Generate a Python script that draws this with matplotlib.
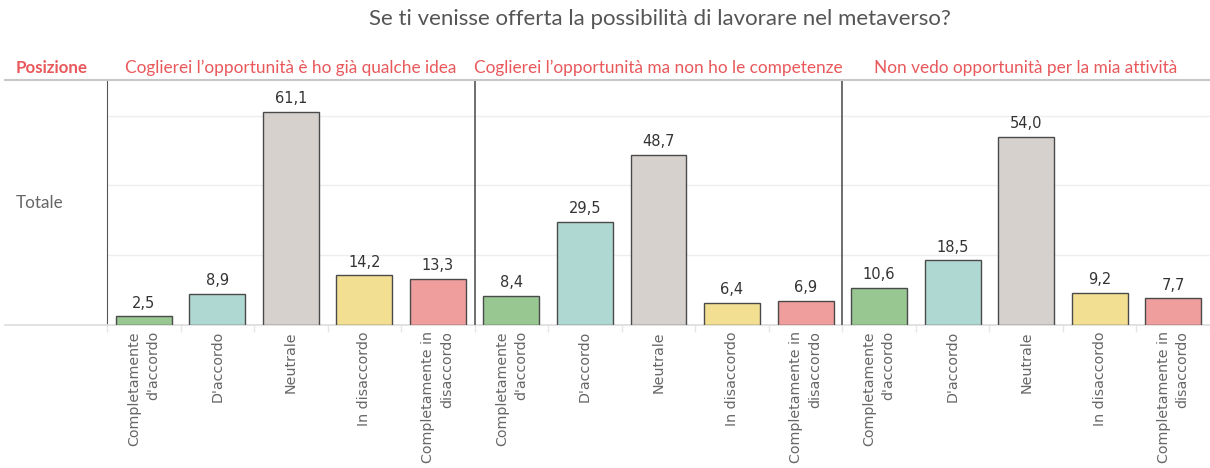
import numpy as np
import matplotlib.pyplot as plt
from matplotlib.lines import Line2D

# Data ~~~~~~~~~~~~~~~~~~~~~~~~~~~~~~~~~~~~~~~~~~~~~~~~~~~~~~~~~~~~~~~~~~~~~~~~~~~
title = 'Se ti venisse offerta la possibilità di lavorare nel metaverso?'
panels = ['Coglierei l’opportunità è ho già qualche idea',
          'Coglierei l’opportunità ma non ho le competenze',
          'Non vedo opportunità per la mia attività']
categories = ["Completamente\nd'accordo", "D'accordo", 'Neutrale',
              'In disaccordo', 'Completamente in\ndisaccordo']
values_idea = [2.5, 8.9, 61.1, 14.2, 13.3]
values_competenze = [8.4, 29.5, 48.7, 6.4, 6.9]
values_attivita = [10.6, 18.5, 54.0, 9.2, 7.7]
colors = ['#98C792', '#B0D8D3', '#D6D1CD', '#F3DF92', '#EF9D9D']

red = '#E9585B'
grey_txt = '#666666'

# Figure ~~~~~~~~~~~~~~~~~~~~~~~~~~~~~~~~~~~~~~~~~~~~~~~~~~~~~~~~~~~~~~~~~~~~~~~~~~
W, H = 1210, 468
fig = plt.figure(figsize=(W / 100, H / 100), dpi=100)

def fx(px):
    return px / W

def fy(py):
    return 1 - py / H

ax = fig.add_axes([fx(107), fy(325), 1 - fx(107), fy(80) - fy(325)])

all_values = values_idea + values_competenze + values_attivita
x = np.arange(len(all_values))
bar_colors = colors * 3
bars = ax.bar(x, all_values, width=0.76, color=bar_colors, edgecolor='#4a4a4a',
              linewidth=1.0, zorder=3)

for xi, v in zip(x, all_values):
    ax.annotate(('%.1f' % v).replace('.', ','), (xi, v), xytext=(0, 4),
                textcoords='offset points', ha='center', va='bottom',
                fontsize=10.5, color='#333333', family='DejaVu Sans')

ax.set_xlim(-0.5, 14.5)
ax.set_ylim(0, 70.2)
ax.set_yticks([20, 40, 60])
ax.yaxis.grid(True, color='#EEEEEE', linewidth=1, zorder=0)
ax.tick_params(axis='y', left=False, labelleft=False)

ax.set_xticks(x)
ax.set_xticklabels(categories * 3, rotation=90, ha='center', va='top',
                   multialignment='right', fontsize=10.3, color=grey_txt,
                   family='DejaVu Sans', linespacing=1.45)
ax.tick_params(axis='x', which='major', length=0, pad=4.5)
ax.set_xticks(np.arange(-0.5, 15, 1), minor=True)
ax.tick_params(axis='x', which='minor', length=5, color='#E6E6E6', width=1)

for s in ['top', 'right']:
    ax.spines[s].set_visible(False)
ax.spines['left'].set_color('#555555')
ax.spines['bottom'].set_color('#DDDDDD')
ax.spines['bottom'].set_linewidth(1.2)
for b in [4.5, 9.5]:
    ax.axvline(b, color='#555555', linewidth=1.2, zorder=4)

# header row and row label
fig.add_artist(Line2D([fx(5), 1], [fy(80), fy(80)], color='#C8C8C8', linewidth=1.5))
fig.add_artist(Line2D([fx(5), fx(107)], [fy(325), fy(325)], color='#DDDDDD', linewidth=1.2))
fig.text(fx(16), fy(68), 'Posizione', color=red, fontsize=12.2, fontweight='bold',
         family='Lato', va='center', ha='left')
centers = [291, 658, 1026]
for c, p in zip(centers, panels):
    fig.text(fx(c), fy(68), p, color=red, fontsize=12.4, family='Lato',
             va='center', ha='center')
fig.text(fx(16), fy(203), 'Totale', color=grey_txt, fontsize=12.3, family='Lato',
         va='center', ha='left')
fig.text(fx(660), fy(19), title, color='#555555', fontsize=16, family='Lato',
         va='center', ha='center')

fig.savefig('out.png', dpi=100)
